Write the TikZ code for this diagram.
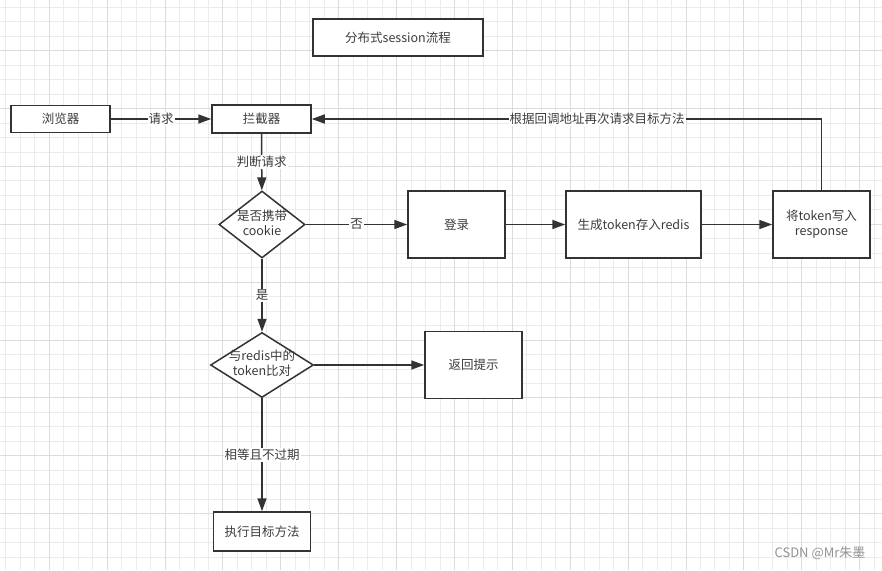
\documentclass[tikz,border=0pt]{standalone}
\usepackage{fontspec}
\setmainfont{Noto Sans CJK SC}
\usetikzlibrary{shapes.geometric,arrows.meta}

\definecolor{linegray}{HTML}{333333}
\definecolor{textgray}{HTML}{3C3C3C}
\definecolor{minorgrid}{HTML}{EBEBEB}
\definecolor{majorgrid}{HTML}{DCDCDC}

% text inside a diamond, kept from widening the shape
\newcommand{\dtext}[1]{\makebox[0pt]{\begin{tabular}{@{}c@{}}#1\end{tabular}}}

\begin{document}
\begin{tikzpicture}[x=1pt,y=-1pt,
    every node/.style={font=\fontsize{12.5}{15}\selectfont, text=textgray},
    box/.style={draw=linegray, line width=1.5pt, fill=white, inner sep=0pt, align=center},
    decision/.style={diamond, draw=linegray, line width=1.5pt, fill=white, inner sep=0pt},
    arrow/.style={draw=linegray, line width=1.5pt, -{Triangle[length=13pt,width=9pt]}},
    lbl/.style={fill=white, inner sep=1pt}]
        \useasboundingbox (0,0) rectangle (882,570);
        \fill[white] (0,0) rectangle (882,570);

        % grid
        \foreach \i in {0,...,60}{
            \pgfmathsetmacro\gx{5.9+14.47*\i}
            \draw[minorgrid, line width=1pt] (\gx,0) -- (\gx,570);
        }
        \foreach \j in {0,...,38}{
            \pgfmathsetmacro\gy{7.3+14.47*\j}
            \draw[minorgrid, line width=1pt] (0,\gy) -- (882,\gy);
        }
        \foreach \i in {3,7,...,59}{
            \pgfmathsetmacro\gx{5.9+14.47*\i}
            \draw[majorgrid, line width=1pt] (\gx,0) -- (\gx,570);
        }
        \foreach \j in {3,7,...,35}{
            \pgfmathsetmacro\gy{7.3+14.47*\j}
            \draw[majorgrid, line width=1pt] (0,\gy) -- (882,\gy);
        }

        % nodes
        \node[box, minimum width=170pt, minimum height=37pt] (title) at (398,37.5) {分布式session流程};
        \node[box, minimum width=99pt, minimum height=27pt] (browser) at (60.5,119) {浏览器};
        \node[box, minimum width=99pt, minimum height=28pt] (interceptor) at (261.5,119) {拦截器};
        \node[decision, minimum width=86pt, minimum height=67pt] (cookie) at (262,224.5) {\dtext{是否携带\\cookie}};
        \node[box, minimum width=97pt, minimum height=67pt] (login) at (456.5,224.5) {登录};
        \node[box, minimum width=135pt, minimum height=67pt] (gen) at (633.5,224.5) {生成token存入redis};
        \node[box, minimum width=97pt, minimum height=67pt] (resp) at (821.5,224.5) {将token写入\\response};
        \node[decision, minimum width=103pt, minimum height=65pt] (check) at (262,365) {\dtext{与redis中的\\token比对}};
        \node[box, minimum width=97pt, minimum height=67pt] (hint) at (473.5,365) {返回提示};
        \node[box, minimum width=97pt, minimum height=39pt] (exec) at (262,531.5) {执行目标方法};

        \node[text=gray!85, font=\fontsize{13}{15}\selectfont] (mark) at (820,553) {CSDN @Mr朱墨};

        % connectors
        \draw[arrow] (browser) -- node[lbl] {请求} (interceptor);
        \draw[arrow] (interceptor) -- node[lbl] {判断请求} (cookie);
        \draw[arrow] (cookie) -- node[lbl] {否} (login);
        \draw[arrow] (login) -- (gen);
        \draw[arrow] (gen) -- (resp);
        \draw[arrow] (resp.north) |- node[lbl, pos=0.72] {根据回调地址再次请求目标方法} (interceptor.east);
        \draw[arrow] (cookie) -- node[lbl] {是} (check);
        \draw[arrow] (check) -- (hint);
        \draw[arrow] (check) -- node[lbl] {相等且不过期} (exec);
    \end{tikzpicture}
\end{document}
